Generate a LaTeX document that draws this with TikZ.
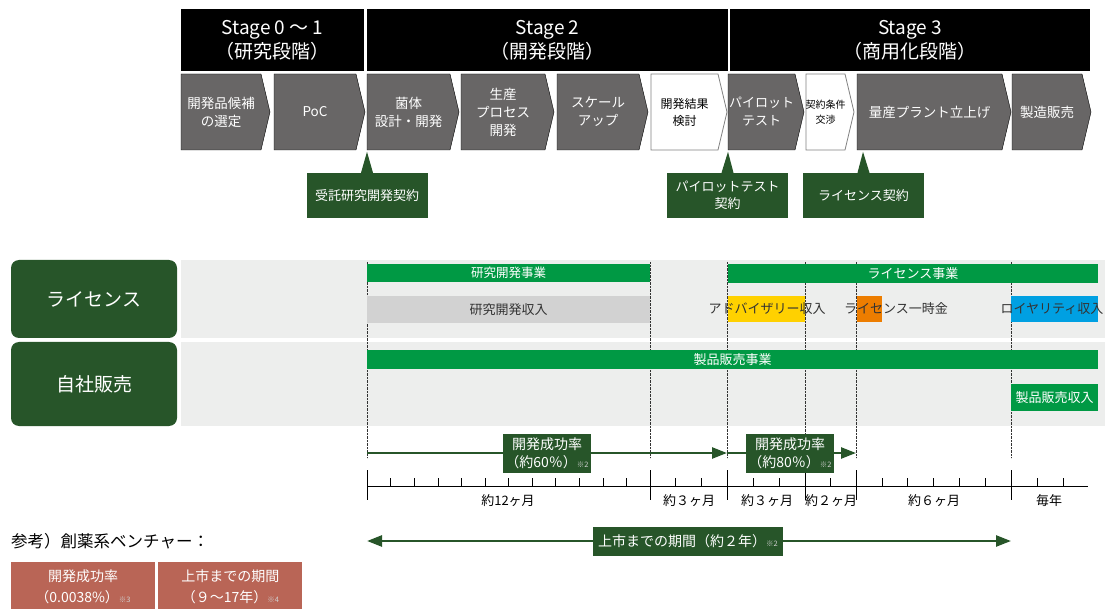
\documentclass[tikz,border=0pt]{standalone}
\usepackage{fontspec}
\setmainfont{Noto Sans CJK JP}
\usetikzlibrary{arrows.meta,positioning}
\definecolor{darkgreen}{RGB}{39,85,41}
\definecolor{bizgreen}{RGB}{0,153,68}
\definecolor{chevgrey}{RGB}{104,102,102}
\definecolor{bandgrey}{RGB}{237,238,237}
\definecolor{incgrey}{RGB}{210,210,210}
\definecolor{advyellow}{RGB}{255,209,0}
\definecolor{lumporange}{RGB}{237,125,0}
\definecolor{royblue}{RGB}{0,160,226}
\definecolor{refred}{RGB}{185,101,86}
\tikzset{
    stagebox/.style={fill=black,text=white,inner sep=0pt,minimum height=62pt,align=center,font=\fontsize{19}{24}\selectfont},
    chevtext/.style={text=white,align=center,inner sep=0pt,font=\fontsize{13.5}{18}\selectfont},
    chevgray/.style={fill=chevgrey},
    chevwhite/.style={fill=white,draw=gray,line width=0.8pt},
    callout/.style={fill=darkgreen,text=white,align=center,inner sep=0pt,minimum width=121pt,minimum height=45pt,font=\fontsize{13}{17}\selectfont},
    rowlabel/.style={fill=darkgreen,text=white,rounded corners=8pt,inner sep=0pt,minimum width=166pt,font=\fontsize{19}{24}\selectfont},
    bizbar/.style={fill=bizgreen,text=white,inner sep=0pt,font=\fontsize{13}{16}\selectfont},
    inctext/.style={text=black!80,inner sep=0pt,font=\fontsize{13}{16}\selectfont},
    span/.style={inner sep=0pt,font=\fontsize{13}{16}\selectfont},
    ratebox/.style={fill=darkgreen,text=white,align=center,inner sep=0pt,minimum width=88pt,minimum height=39pt,font=\fontsize{14}{18}\selectfont},
    devarrow/.style={draw=darkgreen,line width=2.5pt,-{Triangle[length=15pt,width=11pt]}},
    refbox/.style={fill=refred,text=white,align=center,inner sep=0pt,minimum width=144pt,minimum height=50pt,font=\fontsize{14}{21}\selectfont}
}
\newcommand\notemark[1]{{\fontsize{7.5}{8}\selectfont\color{white!82!black}※#1}}
% chevron: [text style]{name}{left x}{tip x}{fill style}{text}
\newcommand\chevron[6][]{%
    \draw[#5] (#3,74) -- (#4-9,74) -- (#4,112) -- (#4-9,150) -- (#3,150) -- cycle;
    \node[chevtext,#1] (#2) at ({(#3+#4-9)/2},112) {#6};
}

\begin{document}
\begin{tikzpicture}[x=1pt,y=-1pt]
    \useasboundingbox (0,0) rectangle (1105,609);

    % stages
    \node[stagebox,minimum width=183pt] (stage01) at (272.5,40) {Stage 0 ～ 1\\（研究段階）};
    \node[stagebox,minimum width=361pt] (stage2) at (547.5,40) {Stage 2\\（開発段階）};
    \node[stagebox,minimum width=360pt] (stage3) at (910,40) {Stage 3\\（商用化段階）};

    % steps
    \chevron{cand}{181}{270}{chevgray}{開発品候補\\の選定}
    \chevron{poc}{274}{365}{chevgray}{PoC}
    \chevron{strain}{367}{459}{chevgray}{菌体\\設計・開発}
    \chevron{process}{461}{554}{chevgray}{生産\\プロセス\\開発}
    \chevron{scaleup}{557}{648}{chevgray}{スケール\\アップ}
    \chevron[text=black,font=\fontsize{12}{17}\selectfont]{review}{651}{727}{chevwhite}{開発結果\\検討}
    \chevron[font=\fontsize{13}{18}\selectfont]{pilot}{728}{804}{chevgray}{パイロット\\テスト}
    \chevron[text=black,font=\fontsize{10}{15}\selectfont]{terms}{806}{854}{chevwhite}{契約条件\\交渉}
    \chevron{plant}{857}{1011}{chevgray}{量産プラント立上げ}
    \chevron{sales}{1012}{1091}{chevgray}{製造販売}

    % contracts
    \node[callout] (rdcontract) at (367,195.5) {受託研究開発契約};
    \node[callout] (pilotcontract) at (727.5,195.5) {パイロットテスト\\契約};
    \node[callout] (licontract) at (863.5,195.5) {ライセンス契約};
    \foreach \c/\dx in {rdcontract/0,pilotcontract/0.5,licontract/-0.5}
        \fill[darkgreen] ([xshift=-6pt]\c.north) -- ([xshift=\dx pt,yshift=21pt]\c.north) -- ([xshift=6pt]\c.north) -- cycle;

    % rows
    \fill[bandgrey] (181,260) rectangle (1105,338);
    \fill[bandgrey] (181,342) rectangle (1105,426);
    \node[rowlabel,minimum height=78pt] (license) at (94,299) {ライセンス};
    \node[rowlabel,minimum height=84pt] (inhouse) at (94,384) {自社販売};

    \foreach \x in {367,650,727,805,856,1011}
        \draw[densely dotted,black!80] (\x,262) -- (\x,458);

    \node[bizbar,minimum width=283pt,minimum height=18pt,font=\fontsize{12.5}{15}\selectfont] (rdbiz) at (508.5,273) {研究開発事業};
    \node[fill=incgrey,inctext,minimum width=283pt,minimum height=27pt] (rdinc) at (508.5,309.5) {研究開発収入};
    \node[bizbar,minimum width=370pt,minimum height=19pt] (licbiz) at (913,273.5) {ライセンス事業};
    \fill[advyellow] (728,296) rectangle (805,322);
    \fill[lumporange] (857,296) rectangle (882,322);
    \fill[royblue] (1011,296) rectangle (1098,322);
    \node[inctext] (advinc) at (767,309) {アドバイザリー収入};
    \node[inctext] (lumpsum) at (896,309) {ライセンス一時金};
    \node[inctext] (royalty) at (1052,309) {ロイヤリティ収入};
    \node[bizbar,minimum width=731pt,minimum height=19pt] (salesbiz) at (732.5,359.5) {製品販売事業};
    \node[bizbar,minimum width=87pt,minimum height=27pt] (salesinc) at (1054.5,397.5) {製品販売収入};

    % timeline
    \coordinate (m0) at (367,486);
    \coordinate (mend) at (1088,486);
    \draw (m0) -- (mend);
    \foreach \x in {367,650,727,805,856,1011}
        \draw (\x,470) -- (\x,500);
    \foreach \a/\b/\n in {367/650/12,650/727/3,727/805/3,805/856/2,856/1011/6,1011/1089/3}{
        \pgfmathtruncatemacro\m{\n-1}
        \foreach \k in {1,...,\m}
            \draw (\a+\k*\b/\n-\k*\a/\n,478) -- ++(0,8);
    }
    \node[span] (d12) at (508,501) {約12ヶ月};
    \node[span] (d3a) at (689,501) {約３ヶ月};
    \node[span] (d3b) at (767,501) {約３ヶ月};
    \node[span] (d2) at (831,501) {約２ヶ月};
    \node[span] (d6) at (934,501) {約６ヶ月};
    \node[span] (yearly) at (1049,501) {毎年};

    \coordinate (r0) at (367,453);
    \coordinate (r1) at (727,453);
    \coordinate (r2) at (856,453);
    \draw[devarrow] (r0) -- (r1);
    \draw[devarrow] (r1) -- (r2);
    \node[ratebox] (rate60) at (547,453.5) {開発成功率\\（約60％）\notemark{2}};
    \node[ratebox] (rate80) at (790,453.5) {開発成功率\\（約80％）\notemark{2}};

    \coordinate (l0) at (367,541);
    \coordinate (l1) at (1011,541);
    \draw[devarrow,{Triangle[length=15pt,width=11pt]}-{Triangle[length=15pt,width=11pt]}] (l0) -- (l1);
    \node[ratebox,minimum width=190pt,minimum height=29pt] (launch) at (688,541.5) {上市までの期間（約２年）\notemark{2}};

    % reference
    \node[anchor=west,inner sep=0pt,font=\fontsize{16.5}{20}\selectfont] (reftitle) at (11,541) {参考）創薬系ベンチャー：};
    \node[refbox] (refrate) at (83,587) {開発成功率\\（0.0038\%）\notemark{3}};
    \node[refbox,right=3pt of refrate] (refterm) {上市までの期間\\（９～17年）\notemark{4}};
\end{tikzpicture}
\end{document}
